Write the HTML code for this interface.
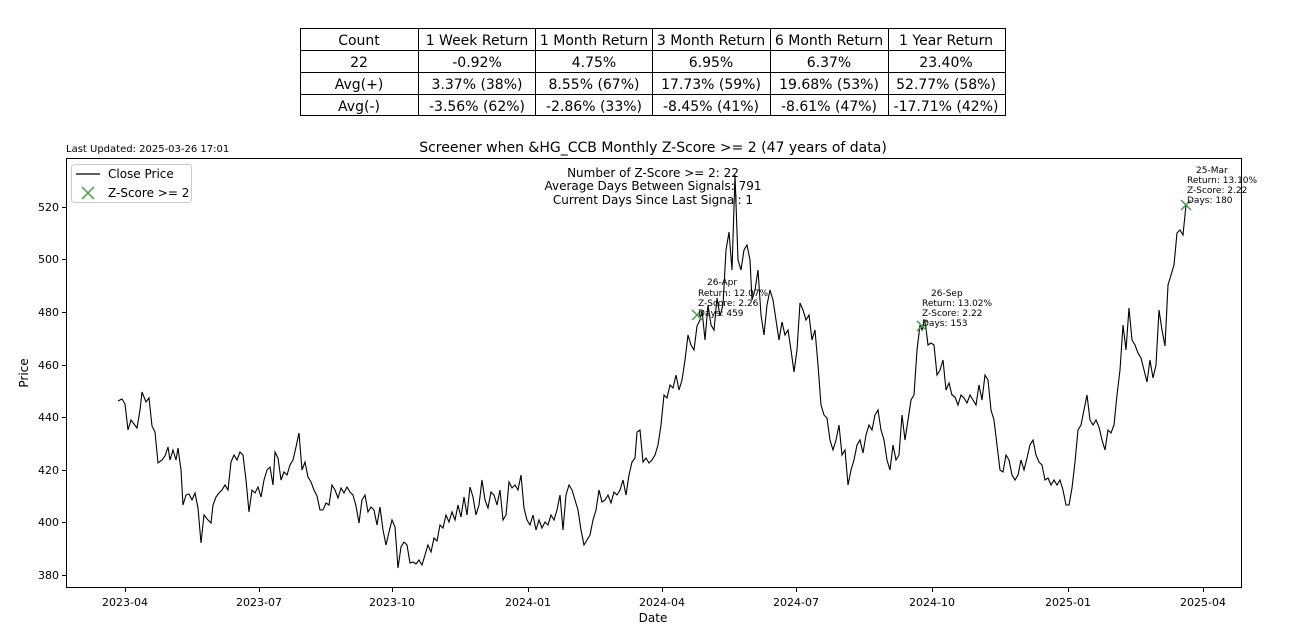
<!DOCTYPE html>
<html><head><meta charset="utf-8"><style>
body{margin:0;background:#fff;font-family:"DejaVu Sans","Liberation Sans",sans-serif;}
</style></head><body>
<svg width="1292" height="634" xmlns="http://www.w3.org/2000/svg" font-family="DejaVu Sans, Liberation Sans, sans-serif">
<rect width="1292" height="634" fill="#fff"/>
<g stroke="#000" stroke-width="1" fill="none">
<rect x="300.5" y="28.5" width="705" height="87"/>
<line x1="300" y1="50.5" x2="1005" y2="50.5"/><line x1="300" y1="72.5" x2="1005" y2="72.5"/><line x1="300" y1="94.5" x2="1005" y2="94.5"/>
<line x1="418.5" y1="28" x2="418.5" y2="116"/><line x1="535.5" y1="28" x2="535.5" y2="116"/><line x1="652.5" y1="28" x2="652.5" y2="116"/><line x1="770.5" y1="28" x2="770.5" y2="116"/><line x1="888.5" y1="28" x2="888.5" y2="116"/>
</g>
<g font-size="14" text-anchor="middle" fill="#000">
<text x="359" y="45">Count</text><text x="477" y="45">1 Week Return</text><text x="594" y="45">1 Month Return</text><text x="711" y="45">3 Month Return</text><text x="829" y="45">6 Month Return</text><text x="946" y="45">1 Year Return</text>
<text x="359" y="67">22</text><text x="477" y="67">-0.92%</text><text x="594" y="67">4.75%</text><text x="711" y="67">6.95%</text><text x="829" y="67">6.37%</text><text x="946" y="67">23.40%</text>
<text x="359" y="89">Avg(+)</text><text x="477" y="89">3.37% (38%)</text><text x="594" y="89">8.55% (67%)</text><text x="711" y="89">17.73% (59%)</text><text x="829" y="89">19.68% (53%)</text><text x="946" y="89">52.77% (58%)</text>
<text x="359" y="111">Avg(-)</text><text x="477" y="111">-3.56% (62%)</text><text x="594" y="111">-2.86% (33%)</text><text x="711" y="111">-8.45% (41%)</text><text x="829" y="111">-8.61% (47%)</text><text x="946" y="111">-17.71% (42%)</text>
</g>
<text x="66" y="152" font-size="10">Last Updated: 2025-03-26 17:01</text>
<text x="653" y="152" font-size="14" text-anchor="middle">Screener when &amp;HG_CCB Monthly Z-Score &gt;= 2 (47 years of data)</text>
<rect x="66.5" y="158.5" width="1175" height="429" fill="none" stroke="#000"/>
<g stroke="#000">
<line x1="125.5" y1="588" x2="125.5" y2="592"/><line x1="259.5" y1="588" x2="259.5" y2="592"/><line x1="392.5" y1="588" x2="392.5" y2="592"/><line x1="528.5" y1="588" x2="528.5" y2="592"/><line x1="662.5" y1="588" x2="662.5" y2="592"/><line x1="796.5" y1="588" x2="796.5" y2="592"/><line x1="932.5" y1="588" x2="932.5" y2="592"/><line x1="1068.5" y1="588" x2="1068.5" y2="592"/><line x1="1203.5" y1="588" x2="1203.5" y2="592"/>
<line x1="62" y1="575.5" x2="66" y2="575.5"/><line x1="62" y1="522.5" x2="66" y2="522.5"/><line x1="62" y1="470.5" x2="66" y2="470.5"/><line x1="62" y1="417.5" x2="66" y2="417.5"/><line x1="62" y1="365.5" x2="66" y2="365.5"/><line x1="62" y1="312.5" x2="66" y2="312.5"/><line x1="62" y1="259.5" x2="66" y2="259.5"/><line x1="62" y1="207.5" x2="66" y2="207.5"/>
</g>
<g font-size="11" text-anchor="middle">
<text x="125" y="606">2023-04</text><text x="259" y="606">2023-07</text><text x="392" y="606">2023-10</text><text x="528" y="606">2024-01</text><text x="662" y="606">2024-04</text><text x="796" y="606">2024-07</text><text x="932" y="606">2024-10</text><text x="1068" y="606">2025-01</text><text x="1203" y="606">2025-04</text>
<text x="653" y="622" font-size="12">Date</text>
</g>
<g font-size="11" text-anchor="end">
<text x="59" y="579">380</text><text x="59" y="526">400</text><text x="59" y="474">420</text><text x="59" y="421">440</text><text x="59" y="369">460</text><text x="59" y="316">480</text><text x="59" y="263">500</text><text x="59" y="211">520</text>
</g>
<text x="28" y="373" font-size="12" text-anchor="middle" transform="rotate(-90 28 373)">Price</text>
<polyline fill="none" stroke="#000" stroke-width="1.1" points="118,401 122,399 125,404 128,430 131,420 134,424 137,428 140,410 142,392 146,402 149,398 152,426 155,432 158,463 162,460 165,456 168,447 170,460 173,450 176,460 178,448 181,470 183,505 186,495 189,494 192,500 195,493 198,508 201,543 204,515 208,520 211,523 213,505 216,497 219,493 222,490 225,485 228,490 231,462 234,455 237,460 240,452 243,455 246,480 249,512 252,490 255,493 258,487 261,497 264,480 267,470 270,467 273,485 275,452 278,458 281,480 284,472 287,475 290,465 293,460 296,447 299,433 302,470 305,462 308,477 311,482 314,490 317,496 320,510 323,510 326,503 329,505 332,485 335,490 338,498 341,488 344,493 347,487 350,492 353,495 356,506 359,523 362,500 365,495 368,512 371,507 374,510 377,525 380,507 383,530 386,545 389,532 392,520 395,527 398,568 401,547 404,542 407,545 410,563 413,562 416,564 419,560 422,565 425,555 428,545 431,552 434,538 437,541 440,525 443,528 446,515 449,522 452,512 455,520 458,505 461,517 464,497 467,515 470,487 473,497 476,515 479,505 482,480 485,500 488,508 491,492 494,495 497,505 500,490 503,520 506,515 509,482 512,488 515,485 518,490 521,475 524,508 527,520 530,525 533,515 536,530 539,520 542,528 545,522 548,525 551,515 554,520 557,510 560,495 563,530 566,495 569,485 572,490 575,500 578,510 581,530 584,545 587,540 590,535 593,520 596,510 599,490 602,502 605,500 608,495 611,503 614,492 617,495 620,490 623,480 626,495 629,475 632,462 635,458 637,432 640,430 643,462 646,458 649,463 652,460 655,455 658,445 661,425 664,395 667,398 670,385 673,388 676,375 679,390 682,380 685,360 688,335 691,345 694,350 697,326 700,320 702,310 705,340 708,305 711,325 714,330 717,298 720,316 723,305 726,250 729,232 732,270 735,175 738,260 741,270 744,250 747,245 750,260 752,300 755,290 758,270 761,315 764,335 767,305 770,290 773,300 776,320 779,340 782,322 785,335 788,330 791,350 794,372 797,350 800,303 803,310 806,320 809,315 812,340 815,330 818,365 821,405 824,415 827,418 830,440 833,450 836,440 839,425 842,455 845,450 848,485 851,470 854,460 857,445 860,440 863,453 866,435 869,425 872,430 875,415 878,410 881,430 884,440 887,460 890,470 893,445 896,460 899,455 902,415 905,440 908,420 911,400 914,395 917,350 920,325 922,330 925,320 928,345 931,343 934,345 937,375 940,370 943,360 946,390 949,383 952,395 955,397 958,405 961,395 964,398 967,403 970,395 973,400 976,405 979,385 982,400 985,375 988,380 991,410 994,420 997,445 1000,470 1003,472 1006,455 1009,460 1012,475 1015,480 1018,475 1021,460 1024,470 1027,458 1030,445 1033,440 1036,455 1039,462 1042,465 1045,480 1048,478 1051,485 1054,480 1057,485 1060,480 1063,490 1066,505 1069,505 1072,488 1075,462 1078,430 1081,425 1084,410 1087,395 1090,420 1093,425 1096,420 1099,427 1102,440 1105,450 1108,430 1111,433 1114,425 1117,395 1120,370 1123,325 1126,350 1129,308 1132,340 1135,345 1138,353 1141,358 1144,370 1147,382 1150,360 1153,378 1156,365 1159,310 1162,330 1165,346 1168,285 1171,275 1174,265 1177,233 1180,230 1183,235 1186,205"/>
<g stroke="#4a9a4a" stroke-width="1.5">
<path d="M692 310 L702 320 M702 310 L692 320"/>
<path d="M917 321 L927 331 M927 321 L917 331"/>
<path d="M1181 200 L1191 210 M1191 200 L1181 210"/>
</g>
<g font-size="9">
<text x="707" y="285">26-Apr</text><text x="698" y="296">Return: 12.07%</text><text x="698" y="306">Z-Score: 2.26</text><text x="698" y="316">Days: 459</text>
<text x="931" y="296">26-Sep</text><text x="922" y="306">Return: 13.02%</text><text x="922" y="316">Z-Score: 2.22</text><text x="922" y="326">Days: 153</text>
<text x="1196" y="173">25-Mar</text><text x="1187" y="183">Return: 13.10%</text><text x="1187" y="193">Z-Score: 2.22</text><text x="1187" y="203">Days: 180</text>
</g>
<g font-size="12" text-anchor="middle">
<text x="653" y="177">Number of Z-Score &gt;= 2: 22</text>
<text x="653" y="190">Average Days Between Signals: 791</text>
<text x="653" y="204">Current Days Since Last Signal: 1</text>
</g>
<rect x="71.5" y="164.5" width="120" height="38" rx="3" fill="#fff" fill-opacity="0.8" stroke="#ccc"/>
<line x1="76" y1="174" x2="100" y2="174" stroke="#000" stroke-width="1.2"/>
<text x="108" y="178" font-size="12">Close Price</text>
<path d="M82 187 L94 199 M94 187 L82 199" stroke="#4a9a4a" stroke-width="1.5"/>
<text x="108" y="197" font-size="12">Z-Score &gt;= 2</text>
</svg>
</body></html>
